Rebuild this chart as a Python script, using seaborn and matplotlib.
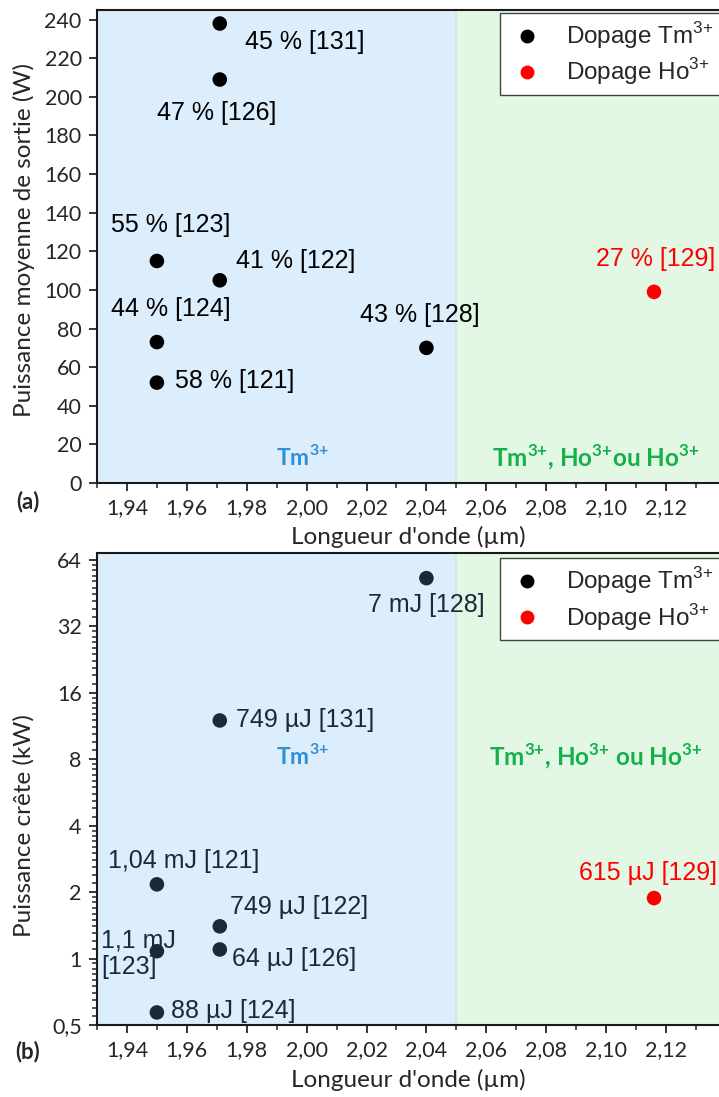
import matplotlib
matplotlib.use("Agg")

import matplotlib.pyplot as plt
import matplotlib.ticker as mticker
import numpy as np
import pandas as pd
import seaborn as sns

sns.set_style("ticks")
plt.rcParams["font.family"] = ["Liberation Sans", "DejaVu Sans"]
plt.rcParams["mathtext.fontset"] = "custom"
plt.rcParams["mathtext.rm"] = "Liberation Sans"

# ---- data -------------------------------------------------------------
# (a) average output power
a_wl = [1.971, 1.971, 1.95, 1.971, 1.95, 1.95, 2.04, 2.116]
a_power = [238, 209, 115, 105, 73, 52, 70, 99]
a_dopant = ["Tm", "Tm", "Tm", "Tm", "Tm", "Tm", "Tm", "Ho"]
a_labels = ["45 % [131]", "47 % [126]", "55 % [123]", "41 % [122]",
            "44 % [124]", "58 % [121]", "43 % [128]", "27 % [129]"]

# (b) peak power
b_wl = [2.04, 1.971, 1.95, 1.971, 1.95, 1.971, 1.95, 2.116]
b_peak = [53, 12.0, 2.17, 1.40, 1.08, 1.10, 0.57, 1.88]
b_dopant = ["Tm", "Tm", "Tm", "Tm", "Tm", "Tm", "Tm", "Ho"]
b_labels = ["7 mJ [128]", "749 µJ [131]", "1,04 mJ [121]", "749 µJ [122]",
            "1,1 mJ\n[123]", "64 µJ [126]", "88 µJ [124]", "615 µJ [129]"]

x_ticks = [1.94, 1.96, 1.98, 2.00, 2.02, 2.04, 2.06, 2.08, 2.10, 2.12]
a_yticks = list(range(0, 241, 20))
b_yticks = [0.5, 1, 2, 4, 8, 16, 32, 64]
tm_limit = 2.05

# label offsets in points (dx, dy, ha)
a_offsets = [(18, -13, "left"), (-45, -24, "left"), (-33, 26, "left"),
             (12, 14, "left"), (-33, 24, "left"), (13, 1, "left"),
             (-48, 24, "left"), (44, 24, "right")]
b_offsets = [(0, -19, "center"), (12, 0, "left"), (-35, 17, "left"),
             (7, 14, "left"), (-40, -2, "left"), (9, -7, "left"),
             (10, 1, "left"), (45, 18, "right")]

TM_BLACK = "#000000"
TM_NAVY = "#1b2a3a"
HO_RED = "#ff0000"
BLUE_BG = "#dcedfc"
GREEN_BG = "#e2f8e4"
TXT_BLUE = "#2f8fd8"
TXT_GREEN = "#16b04a"
TICK_FONT = "Lato"

df_a = pd.DataFrame({"wl": a_wl, "val": a_power, "dop": a_dopant, "lab": a_labels})
df_b = pd.DataFrame({"wl": b_wl, "val": b_peak, "dop": b_dopant, "lab": b_labels})

W, H = 719, 1097
fig = plt.figure(figsize=(W / 100, H / 100), dpi=100)
ax_a = fig.add_axes([97 / W, 1 - 483 / H, 1 - 97 / W, 473 / H])
ax_b = fig.add_axes([97 / W, 1 - 1025 / H, 1 - 97 / W, 472 / H])


def comma_fmt(v, _):
    return f"{v:.2f}".replace(".", ",")


def log_fmt(v, _):
    return (f"{v:g}").replace(".", ",")


def decorate(ax, leg_top):
    ax.axvspan(1.90, tm_limit, color=BLUE_BG, zorder=0, lw=0)
    ax.axvspan(tm_limit, 2.2, color=GREEN_BG, zorder=0, lw=0)
    ax.axvline(tm_limit, color="#c9e9ea", lw=1.2, zorder=0.5)
    ax.set_xlim(1.93, 2.1377)
    ax.set_xticks(x_ticks)
    ax.xaxis.set_minor_locator(mticker.MultipleLocator(0.01))
    ax.xaxis.set_major_formatter(mticker.FuncFormatter(comma_fmt))
    for side in ["top", "left", "bottom"]:
        ax.spines[side].set_linewidth(1.5)
        ax.spines[side].set_color("#1a1a1a")
    ax.spines["right"].set_visible(False)
    ax.tick_params(which="major", direction="out", length=6, width=1.3,
                   labelsize=15.5, pad=5)
    ax.tick_params(which="minor", direction="out", length=3.5, width=1.1)
    for t in ax.get_xticklabels() + ax.get_yticklabels():
        t.set_fontfamily(TICK_FONT)
    ax.set_xlabel("")
    ax.set_ylabel("")
    handles = [
        plt.Line2D([], [], ls="", marker="o", ms=9, color=TM_BLACK),
        plt.Line2D([], [], ls="", marker="o", ms=9, color=HO_RED),
    ]
    leg = ax.legend(handles, ["Dopage Tm$^{3{+}}$", "Dopage Ho$^{3{+}}$"],
                    loc="upper left", bbox_to_anchor=(0.648, leg_top),
                    fontsize=17.5, frameon=True, fancybox=False,
                    handletextpad=0.8, borderpad=0.3, labelspacing=0.22,
                    handlelength=1.6, borderaxespad=0)
    leg.get_frame().set_edgecolor("#444444")
    leg.get_frame().set_linewidth(1.0)
    leg.get_frame().set_facecolor("white")
    leg.get_frame().set_alpha(1)


def annotate(ax, df, offsets, tm_color):
    for (_, row), (dx, dy, ha) in zip(df.iterrows(), offsets):
        color = HO_RED if row["dop"] == "Ho" else tm_color
        ax.annotate(row["lab"], (row["wl"], row["val"]), textcoords="offset points",
                    xytext=(dx, dy), ha=ha, va="center", fontsize=18,
                    color=color, linespacing=1.15, zorder=4)


# ---- (a) ----------------------------------------------------------------
sns.scatterplot(data=df_a, x="wl", y="val", hue="dop",
                palette={"Tm": TM_BLACK, "Ho": HO_RED},
                s=110, edgecolor="none", legend=False, ax=ax_a, zorder=3)
ax_a.set_ylim(0, 245)
ax_a.set_yticks(a_yticks)
decorate(ax_a, 0.9937)
annotate(ax_a, df_a, a_offsets, TM_BLACK)

# ---- (b) ----------------------------------------------------------------
sns.scatterplot(data=df_b, x="wl", y="val", hue="dop",
                palette={"Tm": TM_NAVY, "Ho": HO_RED},
                s=110, edgecolor="none", legend=False, ax=ax_b, zorder=3)
ax_b.set_yscale("log", base=2)
ax_b.set_ylim(0.5, 68.9)
ax_b.set_yticks(b_yticks)
ax_b.yaxis.set_major_formatter(mticker.FuncFormatter(log_fmt))
ax_b.yaxis.set_minor_locator(mticker.LogLocator(base=2, subs=np.arange(1.1, 2.0, 0.1)))
ax_b.yaxis.set_minor_formatter(mticker.NullFormatter())
decorate(ax_b, 0.989)
annotate(ax_b, df_b, b_offsets, TM_NAVY)

# region labels
region_tm = r"Tm$^{\mathregular{3{+}}}$"
region_a = r"Tm$^{\mathregular{3{+}}}$, Ho$^{\mathregular{3{+}}}$ou Ho$^{\mathregular{3{+}}}$"
region_b = r"Tm$^{\mathregular{3{+}}}$, Ho$^{\mathregular{3{+}}}$ ou Ho$^{\mathregular{3{+}}}$"
for ax, ytxt, green_txt in [(ax_a, 0.055, region_a), (ax_b, 0.57, region_b)]:
    ax.text(0.331, ytxt, region_tm, transform=ax.transAxes, ha="center", va="center",
            fontsize=16.5, fontweight="bold", color=TXT_BLUE, family=TICK_FONT)
    ax.text(0.802, ytxt, green_txt, transform=ax.transAxes, ha="center", va="center",
            fontsize=17.5, fontweight="bold", color=TXT_GREEN, family=TICK_FONT)

# axis titles, placed in figure pixels
fig.text(408 / W, 1 - 537 / H, "Longueur d'onde (µm)", fontsize=17.5,
         family=TICK_FONT, ha="center", va="center")
fig.text(408 / W, 1 - 1080 / H, "Longueur d'onde (µm)", fontsize=17.5,
         family=TICK_FONT, ha="center", va="center")
fig.text(24 / W, 1 - 240 / H, "Puissance moyenne de sortie (W)", fontsize=17.5,
         family=TICK_FONT, ha="center", va="center", rotation=90)
fig.text(24 / W, 1 - 826 / H, "Puissance crête (kW)", fontsize=17.5,
         family=TICK_FONT, ha="center", va="center", rotation=90)

fig.text(28 / W, 1 - 502 / H, "(a)", fontsize=16, fontweight="bold",
         family=TICK_FONT, ha="center", va="center")
fig.text(28 / W, 1 - 1052 / H, "(b)", fontsize=16, fontweight="bold",
         family=TICK_FONT, ha="center", va="center")

fig.savefig("out.png", dpi=100)
